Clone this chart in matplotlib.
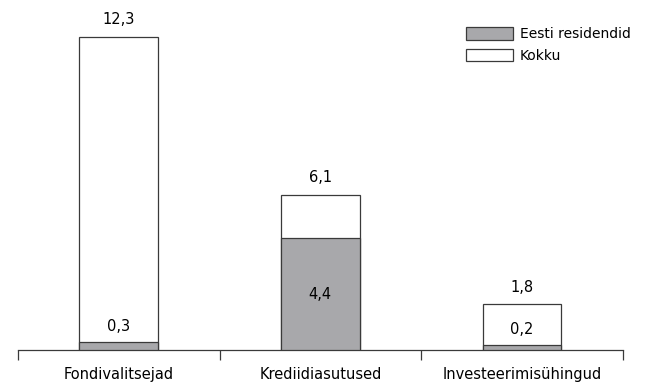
import matplotlib.pyplot as plt
from matplotlib.patches import Patch

categories = ['Fondivalitsejad', 'Krediidiasutused', 'Investeerimisühingud']
kokku = [12.3, 6.1, 1.8]
eesti = [0.3, 4.4, 0.2]

kokku_lbl = ['12,3', '6,1', '1,8']
eesti_lbl = ['0,3', '4,4', '0,2']

plt.rcParams['font.family'] = ['Liberation Sans Narrow', 'DejaVu Sans']
plt.rcParams['font.size'] = 10

fig = plt.figure(figsize=(6.51, 3.83), dpi=100)
ax = fig.add_axes([0.0276, 0.086, 0.929, 0.888])

gray = '#a8a8ab'
edge = '#3a3a3a'
x = list(range(len(categories)))
w = 0.39

ax.bar(x, kokku, w, color='white', edgecolor=edge, linewidth=0.9, zorder=2)
ax.bar(x, eesti, w, color=gray, edgecolor=edge, linewidth=0.9, zorder=3)

for i in x:
    ax.text(i, kokku[i] + 0.38, kokku_lbl[i], ha='center', va='bottom', fontsize=10.5)
    if eesti[i] > 2:
        ax.text(i, eesti[i] / 2, eesti_lbl[i], ha='center', va='center', fontsize=10.5)
    else:
        ax.text(i, eesti[i] + 0.32, eesti_lbl[i], ha='center', va='bottom', fontsize=10.5)

ax.set_xlim(-0.5, 2.5)
ax.set_ylim(0, 13.36)
ax.set_xticks(x)
ax.set_xticklabels(categories, fontsize=10.5)
ax.tick_params(axis='x', length=0, pad=12)
ax.set_xticks([-0.5, 0.5, 1.5, 2.5], minor=True)
ax.tick_params(axis='x', which='minor', length=7, width=0.9, color=edge)
ax.set_yticks([])
for s in ['left', 'right', 'top']:
    ax.spines[s].set_visible(False)
ax.spines['bottom'].set_color(edge)
ax.spines['bottom'].set_linewidth(0.9)

handles = [Patch(facecolor=gray, edgecolor=edge, linewidth=0.9, label='Eesti residendid'),
           Patch(facecolor='white', edgecolor=edge, linewidth=0.9, label='Kokku')]
fig.legend(handles=handles, loc='upper left', bbox_to_anchor=(0.707, 0.943),
           frameon=False, fontsize=10, handlelength=3.4, handleheight=1.0,
           handletextpad=0.5, labelspacing=0.55, borderaxespad=0)

fig.savefig('out.png', dpi=100)
